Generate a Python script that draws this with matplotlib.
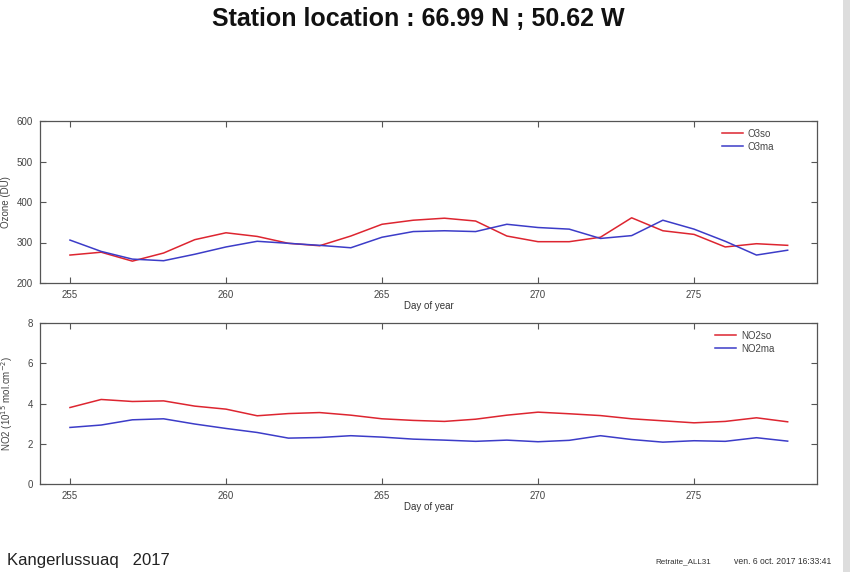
import matplotlib
matplotlib.use('Agg')
import matplotlib.pyplot as plt
from matplotlib.patches import Rectangle

plt.rcParams['font.family'] = ['Liberation Sans', 'DejaVu Sans']

# Data
days = list(range(255, 279))
o3_so = [269, 276, 254, 274, 307, 324, 315, 298, 292, 316, 345, 355,
         360, 353, 316, 302, 302, 313, 361, 329, 320, 289, 297, 293]
o3_ma = [306, 278, 259, 255, 271, 289, 303, 298, 293, 287, 313, 327,
         329, 327, 345, 337, 333, 310, 317, 355, 333, 303, 269, 281]
no2_so = [3.80, 4.20, 4.10, 4.13, 3.87, 3.72, 3.39, 3.50, 3.55, 3.42, 3.24, 3.16,
          3.11, 3.22, 3.42, 3.57, 3.49, 3.40, 3.24, 3.14, 3.04, 3.11, 3.29, 3.09]
no2_ma = [2.81, 2.93, 3.19, 3.24, 2.98, 2.76, 2.56, 2.28, 2.31, 2.40, 2.33, 2.23,
          2.18, 2.12, 2.18, 2.10, 2.17, 2.40, 2.21, 2.08, 2.15, 2.12, 2.30, 2.13]

red = '#dd2530'
blue = '#3c3cc8'
gray = '#555555'

fig = plt.figure(figsize=(8.5, 5.72), dpi=100)
W, H = 850, 572


def add_axes(left, top, right, bottom):
    return fig.add_axes([left / W, 1 - bottom / H, (right - left) / W, (bottom - top) / H])


def style(ax, ylim, yticks):
    ax.set_xlim(254.04, 278.94)
    ax.set_ylim(*ylim)
    ax.set_xticks([255, 260, 265, 270, 275])
    ax.set_yticks(yticks)
    ax.tick_params(direction='in', top=True, right=True, length=4, width=0.8,
                   labelsize=7, colors=gray, labelcolor='#444444', pad=5)
    for s in ax.spines.values():
        s.set_color(gray)
        s.set_linewidth(0.9)
    ax.set_xlabel('Day of year', fontsize=7, color='#333333', labelpad=3)
    ax.xaxis.set_label_coords(0.5, -0.11)
    leg = ax.legend(loc='upper right', frameon=False, fontsize=7, handlelength=2.2,
                    handletextpad=0.5, borderaxespad=0.4, labelspacing=0.3,
                    bbox_to_anchor=(0.955, 1.0))
    for t in leg.get_texts():
        t.set_color('#444444')


ax1 = add_axes(40, 121, 817, 283)
ax1.plot(days, o3_so, color=red, lw=1.1, label='O3so')
ax1.plot(days, o3_ma, color=blue, lw=1.1, label='O3ma')
style(ax1, (200, 600), [200, 300, 400, 500, 600])
ax1.set_ylabel('Ozone (DU)', fontsize=7, color='#444444')
ax1.yaxis.set_label_coords(-0.037, 0.5)

ax2 = add_axes(40, 323, 817, 484)
ax2.plot(days, no2_so, color=red, lw=1.1, label='NO2so')
ax2.plot(days, no2_ma, color=blue, lw=1.1, label='NO2ma')
style(ax2, (0, 8), [0, 2, 4, 6, 8])
ax2.set_ylabel('NO2 (10$^{15}$ mol.cm$^{-2}$)', fontsize=7, color='#444444')
ax2.yaxis.set_label_coords(-0.032, 0.5)

fig.text(418 / W, 1 - 19 / H, 'Station location : 66.99 N ; 50.62 W',
         ha='center', va='center', fontsize=18, fontweight='bold', color='#111111')
fig.text(7 / W, 1 - 561 / H, 'Kangerlussuaq   2017', ha='left', va='center',
         fontsize=12, color='#222222')
fig.text(683 / W, 1 - 562 / H, 'Retraite_ALL31', ha='center', va='center',
         fontsize=5.8, color='#333333')
fig.text(783 / W, 1 - 562 / H, 'ven. 6 oct. 2017 16:33:41', ha='center', va='center',
         fontsize=6.2, color='#333333')

# grey strip at the right edge of the screenshot
fig.patches.append(Rectangle((843 / W, 0), 7 / W, 1, transform=fig.transFigure,
                             facecolor='#dddddd', edgecolor='none'))

fig.savefig('out.png', dpi=100)
